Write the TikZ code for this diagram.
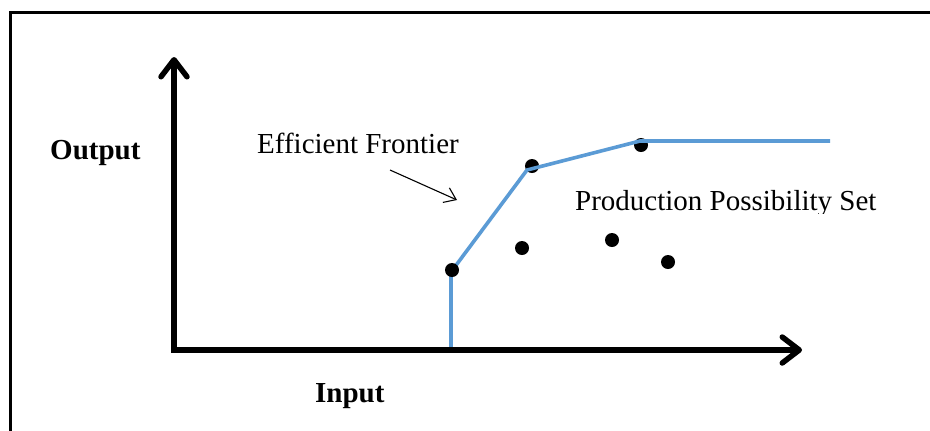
\documentclass[tikz,border=0pt]{standalone}
\usepackage{fontspec}
\setmainfont{Liberation Serif}
\usetikzlibrary{arrows.meta}
\definecolor{frontierblue}{RGB}{91,155,213}
\tikzset{
  axis/.style={line width=5.5bp, line join=miter, {Straight Barb[length=17bp,width=26bp,round]}-{Straight Barb[length=17bp,width=26bp,round]}},
  frontier/.style={line width=3.6bp, frontierblue},
  dmu/.style={circle, fill=black, inner sep=0pt, minimum size=14bp},
  lbl/.style={anchor=base west, inner sep=0pt, font=\fontsize{29bp}{34bp}\selectfont},
  pointer/.style={line width=1.1bp, -{Straight Barb[length=11bp,width=16bp]}}
}
\begin{document}
\begin{tikzpicture}[x=1bp, y=-1bp]
\useasboundingbox (0,0) rectangle (930,430);
\fill[white] (-2,-2) rectangle (932,432);
% Frame (runs off the right and bottom edges)
\draw[line width=3bp, line cap=butt] (10.5,432) -- (10.5,12.5) -- (932,12.5);

% Frontier vertices and observed units (hardcoded pixel positions)
\coordinate (f0) at (451,350);
\coordinate (f1) at (451,272);
\coordinate (f2) at (527,170);
\coordinate (f3) at (640,141);
\coordinate (f4) at (830,141);
\node[dmu] (u2) at (532,166) {};
\node[dmu] (u3) at (641,145) {};
\node[dmu] (u4) at (522,248) {};
\node[dmu] (u5) at (612,240) {};
\node[dmu] (u6) at (668,262) {};

% Efficient frontier
\draw[frontier] (f0) -- (f1) -- (f2) -- (f3) -- (f4);
\node[dmu] (u1) at (452,270) {};

% Axes
\coordinate (ytip) at (174,57);
\coordinate (xtip) at (802,350);
\draw[axis] (ytip) |- (xtip);

% Labels
\node[lbl, font=\fontsize{29bp}{34bp}\selectfont\bfseries] (ylab) at (50,159) {Output};
\node[lbl, font=\fontsize{29bp}{34bp}\selectfont\bfseries] (xlab) at (315,402) {Input};
\node[lbl] (efflab) at (257,153) {Efficient Frontier};
\begin{scope}
  \clip (560,170) rectangle (900,213);
  \node[lbl] (ppslab) at (575,210) {Production Possibility Set};
\end{scope}

% Pointer to the frontier
\coordinate (ptail) at (390,170);
\coordinate (phead) at (457,200);
\draw[pointer] (ptail) -- (phead);
\end{tikzpicture}
\end{document}
